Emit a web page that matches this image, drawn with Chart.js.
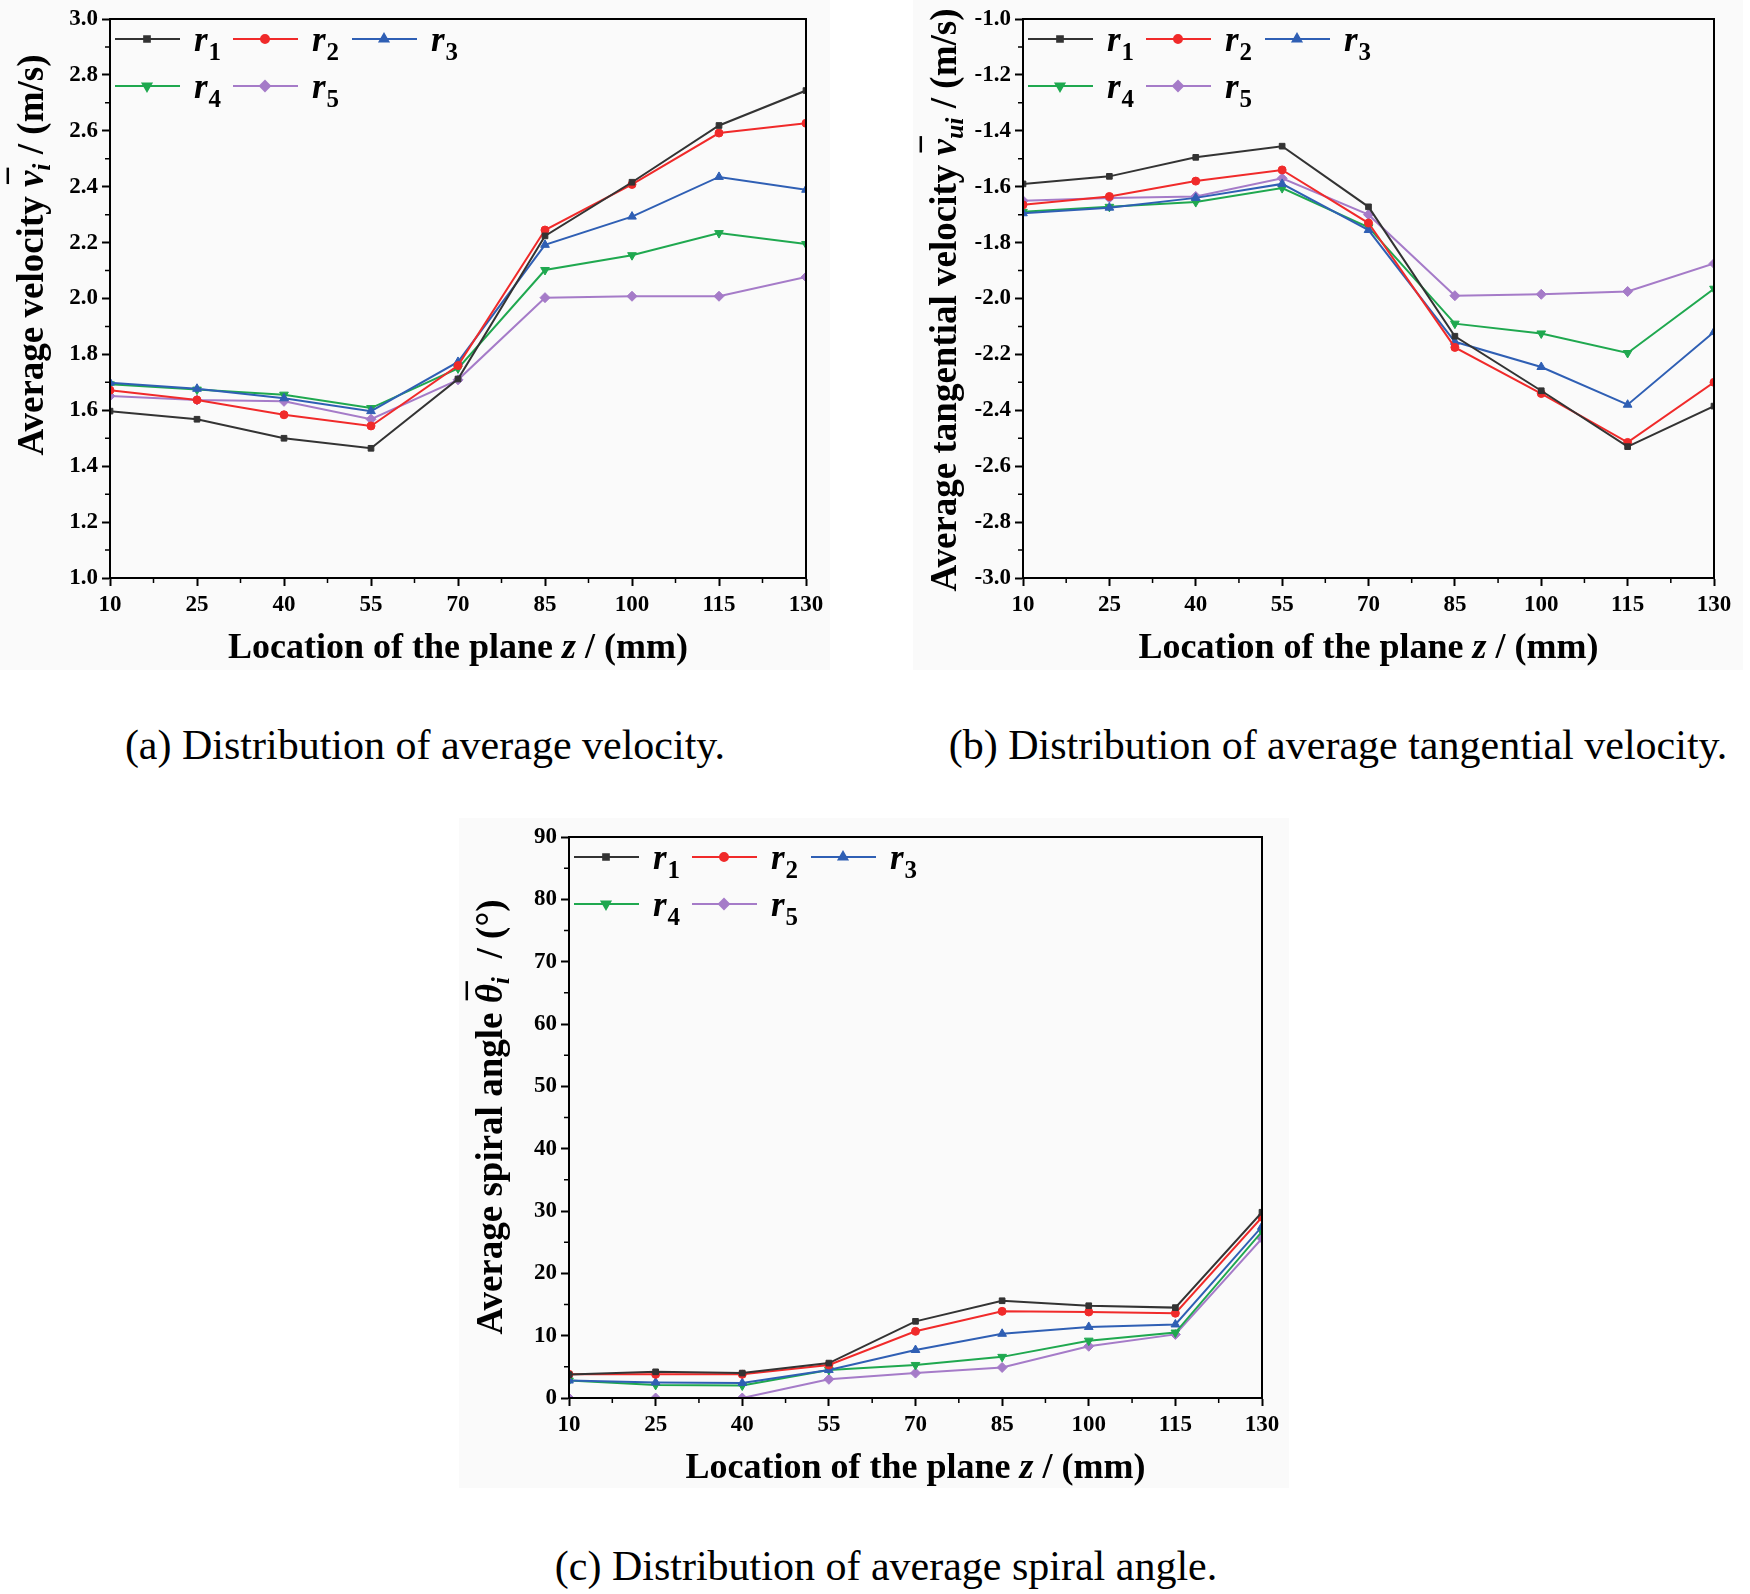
<!DOCTYPE html>
<html>
<head>
<meta charset="utf-8">
<script src="https://cdn.jsdelivr.net/npm/chart.js@4.4.1/dist/chart.umd.min.js"></script>
<style>
  body { margin: 0; background: #fff; width: 1750px; height: 1594px; position: relative; overflow: hidden; }
  canvas { position: absolute; }
  .cap { position: absolute; width: 900px; text-align: center; font: 42px "Liberation Serif", "Times New Roman", serif; line-height: 48px; color: #000; }
</style>
</head>
<body>
<canvas id="chartA" width="830" height="670" style="left:0;top:0"></canvas>
<canvas id="chartB" width="830" height="670" style="left:913px;top:0"></canvas>
<canvas id="chartC" width="830" height="670" style="left:459px;top:818px"></canvas>
<div class="cap" style="left:-25px;top:721px">(a) Distribution of average velocity.</div>
<div class="cap" style="left:888px;top:721px">(b) Distribution of average tangential velocity.</div>
<div class="cap" style="left:436px;top:1542px">(c) Distribution of average spiral angle.</div>
<script>
// plane locations z (mm)
const zPlane = [10, 25, 40, 55, 70, 85, 100, 115, 130];
const radiusNames = ['1', '2', '3', '4', '5'];

// (a) average velocity (m/s)
const velR1 = [1.597, 1.568, 1.500, 1.464, 1.712, 2.224, 2.416, 2.619, 2.744];
const velR2 = [1.672, 1.637, 1.584, 1.544, 1.760, 2.245, 2.408, 2.592, 2.627];
const velR3 = [1.699, 1.677, 1.643, 1.597, 1.773, 2.192, 2.293, 2.435, 2.389];
const velR4 = [1.693, 1.674, 1.656, 1.608, 1.750, 2.102, 2.155, 2.234, 2.195];
const velR5 = [1.651, 1.637, 1.632, 1.568, 1.709, 2.003, 2.008, 2.008, 2.077];

// (b) average tangential velocity (m/s)
const tanR1 = [-1.590, -1.563, -1.495, -1.455, -1.672, -2.135, -2.330, -2.530, -2.385];
const tanR2 = [-1.665, -1.635, -1.580, -1.540, -1.730, -2.175, -2.340, -2.515, -2.300];
const tanR3 = [-1.695, -1.675, -1.640, -1.590, -1.755, -2.155, -2.245, -2.380, -2.120];
const tanR4 = [-1.690, -1.672, -1.655, -1.605, -1.745, -2.090, -2.125, -2.195, -1.965];
const tanR5 = [-1.650, -1.640, -1.635, -1.570, -1.700, -1.990, -1.985, -1.975, -1.875];

// (c) average spiral angle (deg)
const angR1 = [3.75, 4.2, 4.0, 5.6, 12.3, 15.6, 14.8, 14.5, 29.8];
const angR2 = [3.8, 3.8, 3.8, 5.3, 10.7, 13.9, 13.8, 13.6, 29.0];
const angR3 = [2.8, 2.5, 2.4, 4.5, 7.7, 10.3, 11.4, 11.8, 27.5];
const angR4 = [2.8, 2.1, 2.0, 4.5, 5.3, 6.6, 9.2, 10.5, 26.7];
const angR5 = [0, 0, 0, 3.0, 4.0, 4.9, 8.3, 10.2, 25.6];

const FONT = '"Liberation Serif", "Times New Roman", serif';
const colors = ['#333333', '#f02a2a', '#2f5fb4', '#1fa84f', '#a57bc8'];
const markers = [
  { pointStyle: 'rect', rotation: 0, radius: 4 },
  { pointStyle: 'circle', rotation: 0, radius: 4 },
  { pointStyle: 'triangle', rotation: 0, radius: 5 },
  { pointStyle: 'triangle', rotation: 180, radius: 5 },
  { pointStyle: 'rectRot', rotation: 0, radius: 5 }
];

function fontStr(p, size) {
  return (p.it ? 'italic ' : '') + 'bold ' + size + 'px ' + FONT;
}

// draws a run of text parts (italic / subscript / overbar) centred on x=0
function drawRich(ctx, parts, size) {
  const sub = Math.round(size * 0.7);
  let total = 0;
  parts.forEach(p => {
    ctx.font = fontStr(p, p.sub ? sub : size);
    p.w = ctx.measureText(p.t).width;
    total += p.w;
  });
  let x = -total / 2;
  ctx.textAlign = 'left';
  ctx.textBaseline = 'alphabetic';
  parts.forEach(p => {
    ctx.font = fontStr(p, p.sub ? sub : size);
    const y = p.sub ? size * 0.55 : size * 0.35;
    ctx.fillText(p.t, x, y);
    if (p.bar) {
      ctx.beginPath();
      ctx.lineWidth = 2.5;
      ctx.moveTo(x + 3, -size * 0.6);
      ctx.lineTo(x + p.w + 3, -size * 0.6);
      ctx.stroke();
    }
    x += p.w;
  });
}

const frame = {
  id: 'frame',
  beforeDraw(chart) {
    const ctx = chart.ctx;
    ctx.save();
    ctx.fillStyle = '#fafafa';
    ctx.fillRect(0, 0, chart.width, chart.height);
    ctx.restore();
  },
  afterDraw(chart, args, opts) {
    const { ctx, chartArea: a, scales: { x, y } } = chart;
    ctx.save();
    ctx.strokeStyle = '#000';
    ctx.fillStyle = '#000';
    ctx.lineWidth = 2;
    ctx.strokeRect(a.left, a.top, a.right - a.left, a.bottom - a.top);
    // minor ticks
    ctx.lineWidth = 1.5;
    ctx.beginPath();
    for (let v = x.min + opts.xMinor; v < x.max; v += 2 * opts.xMinor) {
      const px = x.getPixelForValue(v);
      ctx.moveTo(px, a.bottom);
      ctx.lineTo(px, a.bottom + 5);
    }
    for (let v = y.min + opts.yMinor; v < y.max - 1e-6; v += 2 * opts.yMinor) {
      const py = y.getPixelForValue(v);
      ctx.moveTo(a.left, py);
      ctx.lineTo(a.left - 5, py);
    }
    ctx.stroke();

    // axis titles
    ctx.save();
    ctx.translate(opts.yTitleX, opts.yTitleY);
    ctx.rotate(-Math.PI / 2);
    drawRich(ctx, opts.yTitle, 37);
    ctx.restore();
    ctx.save();
    ctx.translate((a.left + a.right) / 2, a.bottom + 67);
    drawRich(ctx, [{ t: 'Location of the plane ' }, { t: 'z', it: true }, { t: ' / (mm)' }], 36);
    ctx.restore();

    // legend inside plot
    const lineStart = [5, 123, 242];
    const rowY = [20, 67];
    chart.data.datasets.forEach((ds, i) => {
      const col = i % 3, row = Math.floor(i / 3);
      const x0 = a.left + lineStart[col], yy = a.top + rowY[row];
      ctx.strokeStyle = ds.borderColor;
      ctx.fillStyle = ds.borderColor;
      ctx.lineWidth = 2;
      ctx.beginPath();
      ctx.moveTo(x0, yy);
      ctx.lineTo(x0 + 65, yy);
      ctx.stroke();
      Chart.helpers.drawPoint(ctx, { pointStyle: ds.pointStyle, rotation: ds.pointRotation, radius: ds.pointRadius, borderWidth: 1 }, x0 + 32, yy);
      ctx.fillStyle = '#000';
      ctx.textAlign = 'left';
      ctx.textBaseline = 'alphabetic';
      ctx.font = 'italic bold 35px ' + FONT;
      ctx.fillText('r', x0 + 79, yy + 12);
      const rw = ctx.measureText('r').width;
      ctx.font = 'bold 25px ' + FONT;
      ctx.fillText(radiusNames[i], x0 + 79 + rw + 1, yy + 21);
    });
    ctx.restore();
  }
};

function makeChart(id, series, yMin, yMax, yStep, yMinor, yTitle, yTitleY, padRight, plotBottom) {
  const datasets = series.map((vals, i) => ({
    label: 'r' + radiusNames[i],
    data: zPlane.map((z, j) => ({ x: z, y: vals[j] })),
    borderColor: colors[i],
    backgroundColor: colors[i],
    borderWidth: 2,
    pointStyle: markers[i].pointStyle,
    pointRotation: markers[i].rotation,
    pointRadius: markers[i].radius,
    pointBorderWidth: 1,
    tension: 0
  }));
  const tickFont = { family: FONT, weight: 'bold', size: 23 };
  const grid = { display: true, drawOnChartArea: false, drawTicks: true, tickLength: 8, color: '#000', tickColor: '#000', tickWidth: 2 };
  return new Chart(document.getElementById(id), {
    type: 'line',
    data: { datasets },
    plugins: [frame],
    options: {
      responsive: false,
      animation: false,
      layout: { padding: { top: 19, right: padRight, left: 0, bottom: 0 } },
      plugins: {
        legend: { display: false },
        tooltip: { enabled: false },
        frame: { xMinor: 7.5, yMinor: yMinor, yTitle: yTitle, yTitleX: 30, yTitleY: yTitleY }
      },
      scales: {
        x: {
          type: 'linear', min: 10, max: 130,
          ticks: { stepSize: 15, color: '#000', font: tickFont, padding: 5, maxRotation: 0 },
          grid: grid,
          border: { display: true, color: '#000', width: 2 },
          afterFit: s => { s.height = 670 - plotBottom; }
        },
        y: {
          min: yMin, max: yMax,
          ticks: { stepSize: yStep, color: '#000', font: tickFont, padding: 4, callback: v => yStep < 1 ? v.toFixed(1) : v },
          grid: grid,
          border: { display: true, color: '#000', width: 2 },
          afterFit: s => { s.width = 110; }
        }
      }
    }
  });
}

makeChart('chartA', [velR1, velR2, velR3, velR4, velR5], 1.0, 3.0, 0.2, 0.1,
  [{ t: 'Average velocity ' }, { t: 'v', it: true, bar: true }, { t: 'i', it: true, sub: true }, { t: ' / (m/s)' }],
  255, 24, 578);
makeChart('chartB', [tanR1, tanR2, tanR3, tanR4, tanR5], -3.0, -1.0, 0.2, 0.1,
  [{ t: 'Average tangential velocity ' }, { t: 'v', it: true, bar: true }, { t: 'ui', it: true, sub: true }, { t: ' / (m/s)' }],
  300, 29, 578);
makeChart('chartC', [angR1, angR2, angR3, angR4, angR5], 0, 90, 10, 5,
  [{ t: 'Average spiral angle ' }, { t: 'θ', it: true, bar: true }, { t: 'i', it: true, sub: true }, { t: '  / (°)' }],
  299, 27, 580);
</script>
</body>
</html>
